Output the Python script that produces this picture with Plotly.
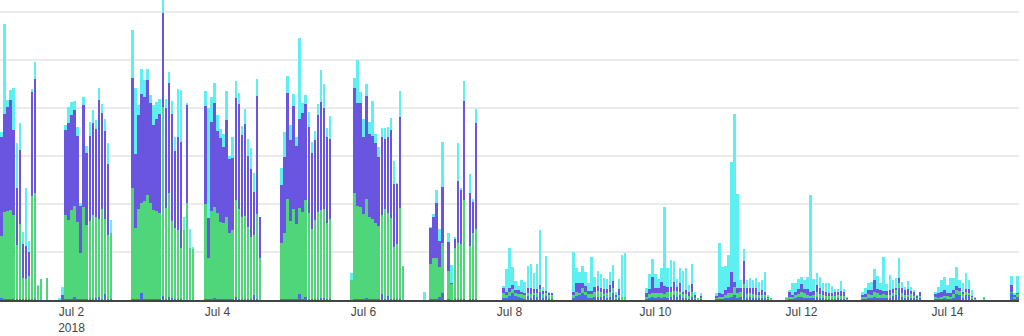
import pandas as pd
import plotly.graph_objects as go

# Hourly timestamps, 1-14 July 2018
hours = pd.date_range("2018-07-01 00:00", periods=336, freq="h")

# Stacked series, one row per day (hours 0-23)
blue = [
    0,2,1,1,1,1,1,1,1,1,1,1,1,0,0,0,0,0,0,0,0,3,1,1,          # Jul 1
    1,3,1,1,1,1,1,1,2,3,1,6,1,1,0,0,0,0,0,0,1,1,1,7,          # Jul 2
    1,1,1,1,1,1,4,1,3,2,1,1,1,0,0,0,0,0,0,0,1,1,1,2,          # Jul 3
    1,1,1,1,1,1,3,1,1,1,1,1,5,1,0,0,0,0,0,0,0,1,1,1,          # Jul 4
    1,1,1,6,1,3,1,1,1,1,2,2,1,1,0,0,0,0,0,0,0,1,1,1,          # Jul 5
    1,2,1,1,1,1,6,1,4,1,1,1,1,0,0,0,0,0,0,0,0,0,1,1,          # Jul 6
    1,3,7,0,1,0,1,1,1,1,0,1,1,1,0,0,0,0,0,0,0,0,2,2,          # Jul 7
    4,7,4,3,2,1,4,2,5,3,8,2,4,1,1,0,0,0,0,0,0,2,4,5,          # Jul 8
    7,5,2,2,3,3,3,4,2,3,7,1,2,0,0,0,0,0,0,0,0,1,2,3,          # Jul 9
    2,3,2,3,2,3,5,3,5,2,2,1,3,1,0,1,0,0,0,0,1,1,1,2,          # Jul 10
    2,3,5,2,3,12,2,3,2,2,2,2,2,1,0,0,0,0,0,0,1,1,2,3,         # Jul 11
    3,2,2,2,2,3,2,2,1,1,1,1,2,1,1,0,0,0,0,0,1,1,2,2,          # Jul 12
    3,2,2,2,2,2,4,5,12,3,2,3,2,2,1,2,0,0,0,0,1,1,1,2,         # Jul 13
    1,1,2,6,5,2,5,5,1,0,0,0,0,0,0,0,0,0,0,0,0,7,1,3,          # Jul 14
]

green = [
    0,62,87,88,89,84,54,75,21,20,23,103,106,14,21,0,22,0,0,0,0,0,84,79,
    89,91,77,46,92,74,78,84,81,78,90,75,64,66,0,0,0,0,0,0,111,71,90,90,
    98,104,96,89,88,86,189,91,104,77,71,69,51,70,97,52,51,0,0,0,95,41,88,91,
    86,77,76,82,66,69,97,90,82,83,72,62,60,85,42,0,0,0,0,0,0,56,66,100,
    78,90,75,86,87,97,86,70,79,87,88,89,76,80,0,0,0,0,0,0,20,106,93,92,
    85,99,82,80,76,73,79,90,83,81,52,55,91,34,0,0,0,0,0,0,0,0,35,41,
    41,30,50,0,28,16,51,56,55,99,0,53,66,70,0,0,0,0,0,0,0,0,5,3,
    4,4,3,3,4,4,3,4,2,4,3,4,3,4,4,0,0,0,0,0,0,3,4,2,
    5,3,4,4,5,6,5,2,5,5,5,2,3,3,3,0,0,0,0,0,0,2,4,4,
    5,4,5,3,6,5,4,6,3,4,4,3,5,1,2,1,0,0,0,0,1,2,2,3,
    5,4,8,5,5,4,4,4,4,3,3,3,3,1,2,0,0,0,0,2,2,2,3,3,
    5,5,3,2,3,5,4,3,3,3,3,3,3,3,3,1,0,0,0,0,2,2,4,3,
    5,5,3,4,3,3,3,5,5,4,3,2,4,2,1,2,0,0,0,0,2,1,2,2,
    3,2,4,4,4,4,3,2,2,1,0,0,3,0,0,0,0,0,0,0,0,1,2,3,
]

purple = [
    0,99,98,104,110,85,57,74,34,33,24,104,114,0,0,0,0,0,0,0,0,2,85,97,
    95,96,86,47,102,72,85,92,88,119,96,88,71,0,0,0,0,0,0,0,110,74,94,109,
    104,115,100,85,92,99,94,100,110,107,77,93,106,0,98,0,0,0,0,0,98,40,89,104,
    82,84,76,97,74,72,102,105,82,92,71,68,43,118,41,0,0,0,0,0,0,58,76,106,
    81,103,78,89,99,96,86,76,80,97,108,101,86,80,0,0,0,0,0,0,0,105,103,104,
    77,103,83,83,80,69,78,70,76,88,63,60,91,0,0,0,0,0,0,0,0,0,36,41,
    55,26,56,0,29,1,9,62,54,99,0,53,31,106,0,0,0,0,0,0,0,0,5,3,
    4,4,3,4,2,2,5,6,4,4,4,3,2,2,2,0,0,0,0,0,0,3,9,10,
    5,6,3,3,5,5,4,5,4,7,7,2,6,0,0,0,0,0,0,0,0,4,5,16,
    5,5,11,8,5,5,9,4,9,2,4,4,8,3,0,2,0,0,0,0,2,4,3,5,
    6,21,5,5,4,23,6,5,6,7,3,5,3,1,0,0,0,0,0,0,5,2,3,5,
    8,4,6,4,4,7,6,4,4,3,3,4,3,5,4,1,0,0,0,0,2,3,4,5,
    12,4,5,3,4,5,4,2,5,5,5,6,3,4,2,4,0,0,0,0,3,5,5,6,
    3,4,4,4,3,2,3,4,1,1,0,0,0,0,0,0,0,0,0,0,0,7,2,1,
]

cyan = [
    0,5,90,7,10,42,45,27,12,58,11,3,17,1,0,0,0,0,0,0,2,8,5,16,
    13,9,9,3,8,7,14,13,9,12,9,12,21,13,0,0,0,0,0,0,48,66,10,25,
    17,11,8,20,17,15,23,9,11,13,14,48,52,13,2,19,2,0,0,0,15,110,25,20,
    16,9,13,29,3,21,17,11,9,15,17,21,19,17,0,0,0,0,0,0,0,17,25,17,
    15,12,9,81,10,9,15,11,9,11,32,24,9,23,0,0,0,0,0,0,7,10,43,11,
    18,12,12,35,9,10,9,11,10,12,23,1,26,0,0,0,0,0,0,0,8,0,1,3,
    13,12,45,0,9,18,2,38,2,20,0,19,3,14,0,0,0,0,0,0,0,0,2,23,
    40,18,9,4,12,11,22,24,16,25,55,4,35,1,0,0,0,0,0,0,0,40,15,11,
    17,14,8,34,10,15,14,11,10,13,16,3,10,42,44,0,0,0,0,0,0,5,15,18,
    14,9,14,79,19,27,21,8,15,21,22,7,20,3,0,3,0,0,0,0,3,50,27,24,
    32,110,168,94,8,12,8,10,8,10,10,10,20,2,0,0,0,0,0,1,2,12,9,10,
    7,9,12,97,12,12,11,8,9,10,7,3,3,10,3,1,0,0,0,0,3,6,7,8,
    11,13,7,34,7,15,9,10,20,6,3,8,4,2,1,0,0,0,0,0,2,6,12,13,
    8,15,12,19,8,9,16,9,6,1,0,0,0,0,0,0,0,0,0,0,0,9,2,17,
]

series = [
    ("blue", blue, "#4a6af0"),
    ("green", green, "#50d67a"),
    ("purple", purple, "#6a55e0"),
    ("cyan", cyan, "#5ef0f0"),
]

fig = go.Figure()
for name, vals, color in series:
    fig.add_trace(go.Bar(x=hours, y=vals, name=name, marker_color=color,
                         marker_line_width=0))

fig.update_layout(
    barmode="stack",
    bargap=0.2,
    width=1024,
    height=336,
    margin=dict(l=0, r=5, t=0, b=36),
    paper_bgcolor="white",
    plot_bgcolor="white",
    showlegend=False,
    font=dict(family="Liberation Sans, Arial, sans-serif", size=12, color="#444"),
    xaxis=dict(
        type="date",
        range=["2018-07-01 00:30", "2018-07-14 23:30"],
        tick0="2018-07-02",
        dtick=2 * 86400000,
        showgrid=False,
        showline=True,
        linecolor="#444",
        linewidth=1.5,
        ticks="",
        automargin=False,
    ),
    yaxis=dict(
        range=[0, 300],
        dtick=48,
        showticklabels=False,
        showgrid=True,
        gridcolor="#ebebeb",
        gridwidth=1.5,
        zeroline=False,
        automargin=False,
    ),
)

fig.write_html("out.html")
